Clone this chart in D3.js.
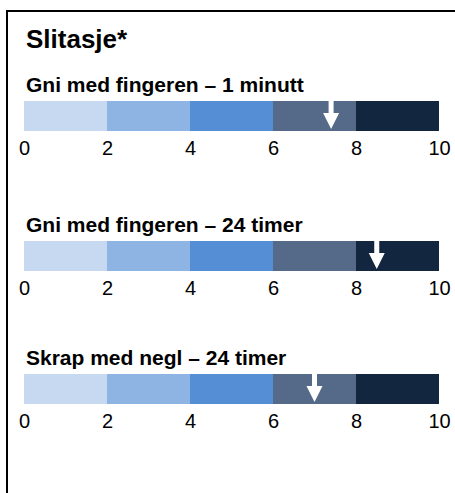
<!DOCTYPE html>
<html><head><meta charset="utf-8">
<script src="https://cdn.jsdelivr.net/npm/d3@7"></script>
<style>body{margin:0;background:#fff;}svg{display:block;font-family:"Liberation Sans",Arial,sans-serif;}</style>
</head><body>
<script>
const title = "Slitasje*";
const categories = ["Gni med fingeren – 1 minutt", "Gni med fingeren – 24 timer", "Skrap med negl – 24 timer"];
const values = [7.4, 8.5, 7.0];
const bandEdges = [0, 2, 4, 6, 8, 10];
const bandColors = ["#c6d9f1", "#8eb4e3", "#558ed5", "#546a88", "#13263f"];
const tickLabels = [0, 2, 4, 6, 8, 10];

const W = 455, H = 493;
const rowTops = [101, 241, 374];
const barH = 30;

const svg = d3.select("body").append("svg").attr("width", W).attr("height", H);
svg.append("rect").attr("x", 7).attr("y", 11).attr("width", 470).attr("height", 500)
  .attr("fill", "none").attr("stroke", "#000").attr("stroke-width", 2);

svg.append("text").attr("x", 26).attr("y", 48).attr("font-size", 26).attr("font-weight", "bold")
  .attr("fill", "#000").text(title);

const x = d3.scaleLinear().domain([0, 10]).range([24, 439]);
const bands = d3.pairs(bandEdges).map((p, i) => ({x0: p[0], x1: p[1], c: bandColors[i]}));

categories.forEach((cat, i) => {
  const g = svg.append("g").attr("transform", `translate(0,${rowTops[i]})`);
  g.append("text").attr("x", 26).attr("y", -9).attr("font-size", 21).attr("font-weight", "bold")
    .attr("fill", "#000").text(cat);
  g.selectAll("rect.band").data(bands).join("rect").attr("class", "band")
    .attr("x", d => x(d.x0)).attr("y", 0).attr("width", d => x(d.x1) - x(d.x0)).attr("height", barH)
    .attr("fill", d => d.c);
  const ax = g.append("g").attr("transform", `translate(0,${barH})`)
    .call(d3.axisBottom(x).tickValues(tickLabels).tickSize(0).tickPadding(10).tickFormat(d3.format("d")));
  ax.select(".domain").remove();
  ax.attr("font-size", 20).attr("font-family", null);
  ax.selectAll("text").attr("font-size", 20).attr("fill", "#000");
  const ah = x(values[i]);
  const p = d3.path();
  p.moveTo(ah - 2.5, 0); p.lineTo(ah + 2.5, 0); p.lineTo(ah + 2.5, 12); p.lineTo(ah + 8, 12);
  p.lineTo(ah, 28); p.lineTo(ah - 8, 12); p.lineTo(ah - 2.5, 12); p.closePath();
  g.append("path").attr("d", p.toString()).attr("fill", "#fff");
});
</script>
</body></html>
